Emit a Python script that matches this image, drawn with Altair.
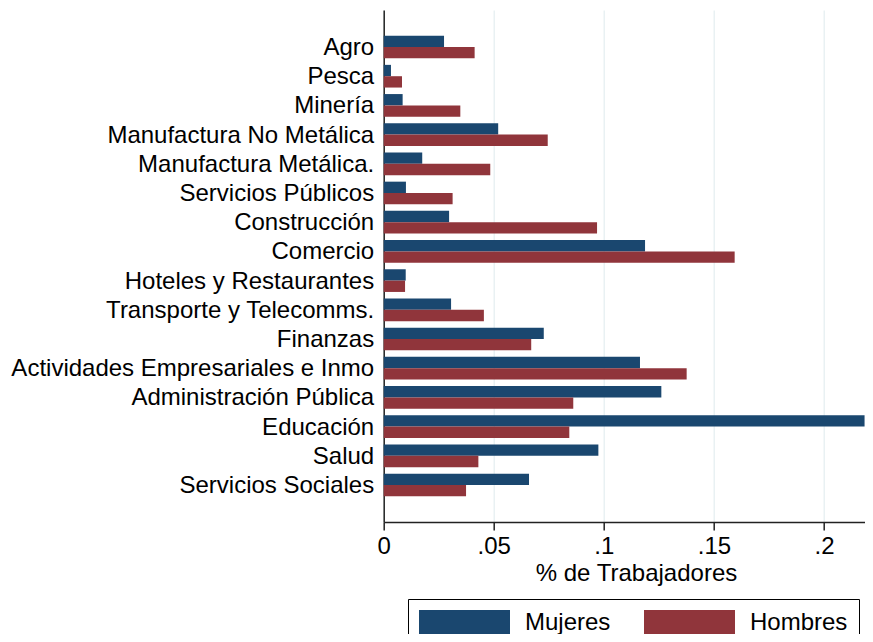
import altair as alt
import pandas as pd

categories = ["Agro", "Pesca", "Minería", "Manufactura No Metálica",
              "Manufactura Metálica.", "Servicios Públicos", "Construcción",
              "Comercio", "Hoteles y Restaurantes", "Transporte y Telecomms.",
              "Finanzas", "Actividades Empresariales e Inmo",
              "Administración Pública", "Educación", "Salud",
              "Servicios Sociales"]
mujeres = [0.0274, 0.0033, 0.0086, 0.0520, 0.0175, 0.0101, 0.0297, 0.1187,
           0.0100, 0.0306, 0.0727, 0.1164, 0.1261, 0.2184, 0.0975, 0.0660]
hombres = [0.0413, 0.0083, 0.0348, 0.0745, 0.0484, 0.0313, 0.0969, 0.1594,
           0.0097, 0.0455, 0.0670, 0.1376, 0.0861, 0.0843, 0.0430, 0.0374]
series = ["Mujeres", "Hombres"]
colors = ["#1a476f", "#90353b"]
x_ticks = [0, 0.05, 0.1, 0.15, 0.2]

rows = []
for c, m, h in zip(categories, mujeres, hombres):
    rows.append({"cat": c, "sexo": "Mujeres", "valor": m})
    rows.append({"cat": c, "sexo": "Hombres", "valor": h})
df = pd.DataFrame(rows)

FONT = "Liberation Sans"

chart = alt.Chart(df).mark_bar().encode(
    x=alt.X("valor:Q",
            scale=alt.Scale(domain=[0, 0.2186], nice=False, zero=True),
            axis=alt.Axis(values=x_ticks,
                          labelExpr="datum.value == 0 ? '0' : replace(toString(datum.value), '0.', '.')",
                          title="% de Trabajadores",
                          titleX=252.3, titleY=58, titleBaseline="alphabetic",
                          titleAlign="center",
                          labelBaseline="alphabetic", labelPadding=23,
                          labelFlush=False,
                          tickSize=8, tickWidth=1.5, tickColor="#222222",
                          domainColor="#222222", domainWidth=1.5,
                          grid=True, gridColor="#e6eff1", gridWidth=1.3)),
    y=alt.Y("cat:N", sort=categories,
            scale=alt.Scale(paddingInner=0.223, paddingOuter=0.879),
            axis=alt.Axis(title=None, ticks=False, tickSize=0,
                          labelPadding=10, labelLimit=0,
                          labelBaseline="alphabetic", labelOffset=8,
                          domainColor="#222222", domainWidth=1.5,
                          grid=False)),
    yOffset=alt.YOffset("sexo:N", sort=series,
                        scale=alt.Scale(paddingInner=0, paddingOuter=0)),
    color=alt.Color("sexo:N",
                    scale=alt.Scale(domain=series, range=colors),
                    sort=series,
                    legend=alt.Legend(title=None, orient="none",
                                      legendX=24.3, legendY=589,
                                      direction="horizontal",
                                      symbolType="M-1,-1 L6.28,-1 L6.28,1 L-1,1 Z",
                                      symbolSize=625, symbolStrokeWidth=0,
                                      symbolOpacity=1,
                                      labelFontSize=24, labelFont=FONT,
                                      labelColor="black",
                                      labelOffset=81, columnPadding=33,
                                      padding=11, strokeColor="black",
                                      fillColor="white", cornerRadius=0)),
).properties(
    width=481.3, height=512,
    padding={"left": 375.7, "top": 2, "right": 0, "bottom": 112},
    autosize=alt.AutoSizeParams(type="none"),
).configure_view(
    strokeWidth=0
).configure_axis(
    labelFont=FONT, titleFont=FONT, labelFontSize=24, titleFontSize=24,
    labelColor="black", titleColor="black", titleFontWeight="normal"
)

chart.save("out.html", embed_options={"renderer": "svg", "actions": False})
